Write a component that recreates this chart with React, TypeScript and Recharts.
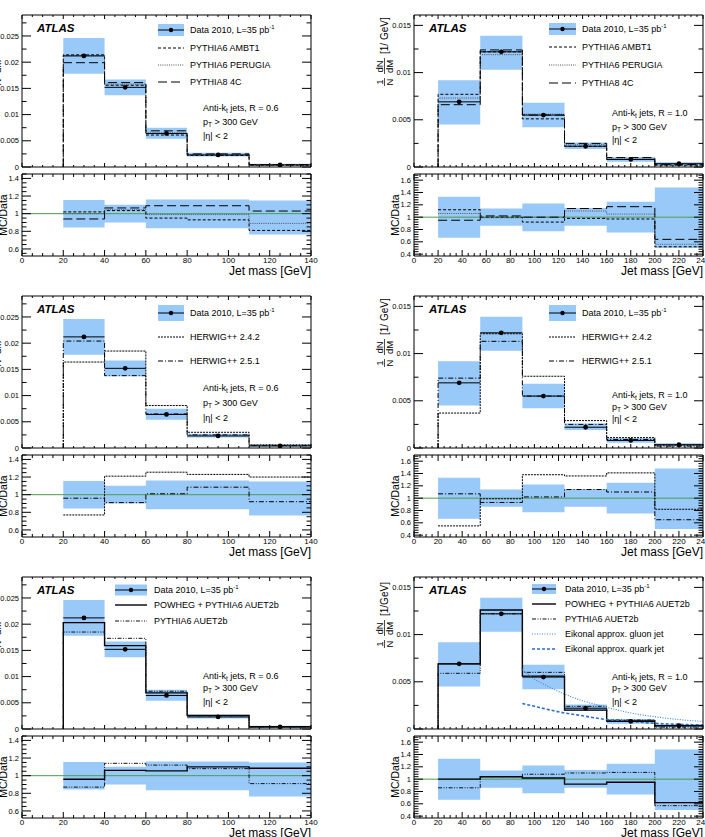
import React from 'react';
import { ComposedChart, XAxis, YAxis, Line, Area, Scatter, ErrorBar, ReferenceLine } from 'recharts';

const FONT = '"Liberation Sans", Arial, Helvetica, sans-serif';
const BAND = '#99c9f8';
const GREEN = '#4c9c4c';

// bin edges [GeV]
const edgesR06 = [20, 40, 60, 80, 110, 140];
const edgesR10 = [20, 55, 90, 125, 160, 200, 240];

// measured 1/N dN/dM with its total uncertainty band
const dataR06 = [0.0212, 0.0152, 0.0064, 0.0023, 0.0004];
const bandLoR06 = [0.0178, 0.0137, 0.0054, 0.002, 0.00025];
const bandHiR06 = [0.0246, 0.0167, 0.0075, 0.0027, 0.0006];
const ratioBandLoR06 = [0.844, 0.9, 0.835, 0.835, 0.765];
const ratioBandHiR06 = [1.156, 1.1, 1.16, 1.16, 1.15];

const dataR10 = [0.0069, 0.0122, 0.0055, 0.0022, 0.0008, 0.00035];
const bandLoR10 = [0.0045, 0.0103, 0.0042, 0.0019, 0.00055, 0.00015];
const bandHiR10 = [0.0092, 0.0139, 0.0068, 0.0026, 0.00105, 0.0005];
const ratioBandLoR10 = [0.665, 0.86, 0.77, 0.86, 0.75, 0.5];
const ratioBandHiR10 = [1.33, 1.14, 1.22, 1.15, 1.25, 1.48];

// PYTHIA tunes
const ambt1R06 = [0.0214, 0.0156, 0.0061, 0.0022, 0.00035];
const ambt1RatioR06 = [1.02, 1.035, 0.95, 0.93, 0.81];
const perugiaR06 = [0.0212, 0.0158, 0.0065, 0.0023, 0.0004];
const perugiaRatioR06 = [1.0, 1.045, 0.99, 0.99, 0.89];
const py8R06 = [0.0199, 0.0161, 0.0069, 0.0025, 0.00045];
const py8RatioR06 = [0.94, 1.065, 1.09, 1.09, 1.03];

const ambt1R10 = [0.0077, 0.0122, 0.0051, 0.0022, 0.0008, 0.0002];
const ambt1RatioR10 = [1.12, 1.0, 0.92, 0.98, 0.97, 0.52];
const perugiaR10 = [0.0073, 0.0119, 0.0056, 0.0024, 0.00085, 0.0002];
const perugiaRatioR10 = [1.06, 0.99, 1.0, 1.1, 1.05, 0.56];
const py8R10 = [0.0066, 0.0124, 0.0055, 0.0025, 0.001, 0.00025];
const py8RatioR10 = [0.95, 1.02, 1.0, 1.14, 1.17, 0.64];

// HERWIG++
const hw242R06 = [0.0164, 0.0185, 0.0081, 0.003, 0.0006];
const hw242RatioR06 = [0.77, 1.21, 1.255, 1.23, 1.2];
const hw251R06 = [0.0204, 0.0138, 0.0065, 0.0025, 0.00045];
const hw251RatioR06 = [0.96, 0.91, 1.01, 1.085, 0.92];

const hw242R10 = [0.0037, 0.0121, 0.0076, 0.0029, 0.0011, 0.0003];
const hw242RatioR10 = [0.55, 0.99, 1.38, 1.36, 1.41, 0.82];
const hw251R10 = [0.0074, 0.0113, 0.0055, 0.0025, 0.0009, 0.0002];
const hw251RatioR10 = [1.07, 0.93, 1.02, 1.14, 1.1, 0.65];

// POWHEG and PYTHIA6 AUET2b
const powhegR06 = [0.0203, 0.0159, 0.0069, 0.0026, 0.00044];
const powhegRatioR06 = [0.96, 1.06, 1.055, 1.1, 1.085];
const auet2bR06 = [0.0185, 0.0173, 0.0072, 0.0025, 0.0004];
const auet2bRatioR06 = [0.87, 1.14, 1.12, 1.08, 0.91];

const powhegR10 = [0.0069, 0.0126, 0.0056, 0.002, 0.00085, 0.00035];
const powhegRatioR10 = [1.0, 1.04, 1.02, 0.92, 0.95, 0.62];
const auet2bR10 = [0.0059, 0.0122, 0.006, 0.0024, 0.00095, 0.0002];
const auet2bRatioR10 = [0.86, 1.04, 1.08, 1.1, 1.11, 0.57];

// eikonal approximation curves (R = 1.0)
const eikonalX = [90, 100, 110, 125, 140, 160, 180, 200, 220, 240];
const gluonEikonal = [0.0063, 0.0053, 0.0046, 0.0037, 0.003, 0.0023, 0.0017, 0.0013, 0.001, 0.0008];
const quarkEikonal = [0.0027, 0.0024, 0.0021, 0.0017, 0.0014, 0.001, 0.0008, 0.0006, 0.0005, 0.00042];

// labelled axis ticks
const xTicksR06 = [0, 20, 40, 60, 80, 100, 120, 140];
const xTicksR10 = [0, 20, 40, 60, 80, 100, 120, 140, 160, 180, 200, 220, 240];
const yTicksMainR06 = [0, 0.005, 0.01, 0.015, 0.02, 0.025];
const yTicksMainR10 = [0, 0.005, 0.01, 0.015];
const yTicksRatioR06 = [0.6, 0.8, 1, 1.2, 1.4];
const yTicksRatioR10 = [0.4, 0.6, 0.8, 1, 1.2, 1.4, 1.6];

// layout
const PW = 289;
const MH = 152;
const RY = 159;
const RH = 82;
const M = 30;
const COLS = [22, 414];
const ROWS = [15, 296, 577];

const range = (a: number, b: number, step: number) => {
  const out: number[] = [];
  for (let v = a; v <= b + step / 1000; v += step) out.push(Math.round(v * 1e6) / 1e6);
  return out;
};

const axR06 = {
  edges: edgesR06, data: dataR06, bandLo: bandLoR06, bandHi: bandHiR06,
  rLo: ratioBandLoR06, rHi: ratioBandHiR06,
  xDomain: [0, 140], xTicks: xTicksR06, xMinor: range(0, 140, 5),
  mainDomain: [0, 0.029], mainTicks: yTicksMainR06, mainMinor: range(0, 0.0275, 0.0025),
  ratioDomain: [0.52, 1.45], ratioTicks: yTicksRatioR06, ratioMinor: range(0.55, 1.45, 0.05),
};
const axR10 = {
  edges: edgesR10, data: dataR10, bandLo: bandLoR10, bandHi: bandHiR10,
  rLo: ratioBandLoR10, rHi: ratioBandHiR10,
  xDomain: [0, 240], xTicks: xTicksR10, xMinor: range(0, 240, 5),
  mainDomain: [0, 0.0161], mainTicks: yTicksMainR10, mainMinor: range(0, 0.015, 0.0025),
  ratioDomain: [0.37, 1.7], ratioTicks: yTicksRatioR10, ratioMinor: range(0.4, 1.68, 0.04),
};

const ST: any = {
  ambt1: { stroke: '#000', dash: '3 2', width: 1 },
  perugia: { stroke: '#444', dash: '1 1.2', width: 0.9 },
  py8: { stroke: '#000', dash: '9 4', width: 1 },
  hw242: { stroke: '#000', dash: '2 1', width: 1 },
  hw251: { stroke: '#000', dash: '5 2 1 2', width: 1 },
  powheg: { stroke: '#000', dash: undefined, width: 1.4 },
  auet2b: { stroke: '#111', dash: '4 1.5 1 1.5 1 1.5', width: 1 },
  gluon: { stroke: '#3d85d6', dash: '1 1.5', width: 1.1 },
  quark: { stroke: '#2b6fc6', dash: '3 2', width: 1.6 },
};

const panels: any[] = [
  {
    col: 0, row: 0, kind: 'R06',
    series: [
      { label: 'PYTHIA6 AMBT1', main: ambt1R06, ratio: ambt1RatioR06, st: ST.ambt1 },
      { label: 'PYTHIA6 PERUGIA', main: perugiaR06, ratio: perugiaRatioR06, st: ST.perugia },
      { label: 'PYTHIA8 4C', main: py8R06, ratio: py8RatioR06, st: ST.py8 },
    ],
    legend: { symX: 136, symW: 26, textX: 168, rows: [15, 33, 50, 67], rectH: 12 },
    annot: { x: 181, rows: [93, 107, 121] },
  },
  {
    col: 1, row: 0, kind: 'R10',
    series: [
      { label: 'PYTHIA6 AMBT1', main: ambt1R10, ratio: ambt1RatioR10, st: ST.ambt1 },
      { label: 'PYTHIA6 PERUGIA', main: perugiaR10, ratio: perugiaRatioR10, st: ST.perugia },
      { label: 'PYTHIA8 4C', main: py8R10, ratio: py8RatioR10, st: ST.py8 },
    ],
    legend: { symX: 135, symW: 27, textX: 168, rows: [14, 32, 50, 68], rectH: 12 },
    annot: { x: 198, rows: [98, 112, 125] },
    unit: '[1/ GeV]',
  },
  {
    col: 0, row: 1, kind: 'R06',
    series: [
      { label: 'HERWIG++ 2.4.2', main: hw242R06, ratio: hw242RatioR06, st: ST.hw242 },
      { label: 'HERWIG++ 2.5.1', main: hw251R06, ratio: hw251RatioR06, st: ST.hw251 },
    ],
    legend: { symX: 136, symW: 26, textX: 168, rows: [17, 41, 65], rectH: 16 },
    annot: { x: 181, rows: [92, 107, 122] },
  },
  {
    col: 1, row: 1, kind: 'R10',
    series: [
      { label: 'HERWIG++ 2.4.2', main: hw242R10, ratio: hw242RatioR10, st: ST.hw242 },
      { label: 'HERWIG++ 2.5.1', main: hw251R10, ratio: hw251RatioR10, st: ST.hw251 },
    ],
    legend: { symX: 135, symW: 27, textX: 168, rows: [17, 41, 65], rectH: 16 },
    annot: { x: 198, rows: [99, 111, 123] },
    unit: '[1/ GeV]',
  },
  {
    col: 0, row: 2, kind: 'R06',
    series: [
      { label: 'POWHEG + PYTHIA6 AUET2b', main: powhegR06, ratio: powhegRatioR06, st: ST.powheg },
      { label: 'PYTHIA6 AUET2b', main: auet2bR06, ratio: auet2bRatioR06, st: ST.auet2b },
    ],
    legend: { symX: 93, symW: 32, textX: 132, rows: [13, 28, 44], rectH: 11 },
    annot: { x: 181, rows: [99, 111, 125] },
  },
  {
    col: 1, row: 2, kind: 'R10',
    series: [
      { label: 'POWHEG + PYTHIA6 AUET2b', main: powhegR10, ratio: powhegRatioR10, st: ST.powheg },
      { label: 'PYTHIA6 AUET2b', main: auet2bR10, ratio: auet2bRatioR10, st: ST.auet2b },
    ],
    curves: [
      { label: 'Eikonal approx. gluon jet', vals: gluonEikonal, st: ST.gluon },
      { label: 'Eikonal approx. quark jet', vals: quarkEikonal, st: ST.quark },
    ],
    legend: { symX: 118, symW: 24, textX: 151, rows: [12, 27, 42, 57, 72], rectH: 10 },
    annot: { x: 198, rows: [100, 111, 125] },
    unit: '[1/GeV]',
  },
];

// histogram outline as step points; last edge repeats the last bin value
const stepRows = (edges: number[], vals: number[], fromZero: boolean) => {
  const rows = vals.map((v, i) => ({ x: edges[i], y: v }));
  rows.push({ x: edges[edges.length - 1], y: vals[vals.length - 1] });
  return fromZero ? [{ x: edges[0], y: 0 }, ...rows] : rows;
};
const bandRows = (edges: number[], lo: number[], hi: number[]) => {
  const rows = lo.map((l, i) => ({ x: edges[i], band: [l, hi[i]] }));
  rows.push({ x: edges[edges.length - 1], band: [lo[lo.length - 1], hi[hi.length - 1]] });
  return rows;
};
const pointRows = (edges: number[], vals: number[]) =>
  vals.map((v, i) => ({ x: (edges[i] + edges[i + 1]) / 2, y: v, ex: (edges[i + 1] - edges[i]) / 2 }));

// ROOT style tick: drawn inward from the frame, long for labelled values
function FrameTick(p: any) {
  const v = p.payload.value;
  const major = p.maj.some((m: number) => Math.abs(m - v) < 1e-9);
  const l = major ? p.len : p.len / 2;
  const s = p.side;
  const c: any = { x1: p.x, x2: p.x, y1: p.y, y2: p.y };
  if (s === 'left') c.x2 = p.x + l;
  else if (s === 'right') c.x1 = p.x - l;
  else if (s === 'top') c.y2 = p.y + l;
  else c.y1 = p.y - l;
  let label = null;
  if (p.show && major) {
    label = s === 'left'
      ? <text x={p.x - 3} y={p.y} dy="0.35em" textAnchor="end" fontSize={7.5} fontFamily={FONT} fill="#000">{String(v)}</text>
      : <text x={p.x} y={p.y + 7} textAnchor="middle" fontSize={8} fontFamily={FONT} fill="#000">{String(v)}</text>;
  }
  return (
    <g>
      <line {...c} stroke="#000" strokeWidth={1} />
      {label}
    </g>
  );
}

const AX_LINE = { stroke: '#000', strokeWidth: 1 };

function frameAxes(xDomain: any, xMajor: number[], xAll: number[], yDomain: any, yMajor: number[], yAll: number[],
  xLabels: boolean, xLen: number, yLen: number) {
  const common: any = {
    type: 'number', allowDataOverflow: true, interval: 0, tickLine: false,
    tickSize: 0, tickMargin: 0, axisLine: AX_LINE,
  };
  return [
    <XAxis key="xb" {...common} dataKey="x" domain={xDomain} ticks={xAll} height={1}
      tick={<FrameTick side="bottom" maj={xMajor} len={xLen} show={xLabels} />} />,
    <XAxis key="xt" xAxisId="t" orientation="top" {...common} dataKey="x" domain={xDomain} ticks={xAll} height={1}
      tick={<FrameTick side="top" maj={xMajor} len={xLen} show={false} />} />,
    <YAxis key="yl" {...common} dataKey="y" domain={yDomain} ticks={yAll} width={1}
      tick={<FrameTick side="left" maj={yMajor} len={yLen} show />} />,
    <YAxis key="yr" yAxisId="r" orientation="right" {...common} dataKey="y" domain={yDomain} ticks={yAll} width={1}
      tick={<FrameTick side="right" maj={yMajor} len={yLen} show={false} />} />,
  ];
}

const dotShape = (props: any) => <circle cx={props.cx} cy={props.cy} r={2.4} fill="#000" />;

function Panel({ p }: any) {
  const ax: any = p.kind === 'R06' ? axR06 : axR10;
  const x0 = COLS[p.col];
  const y0 = ROWS[p.row];
  const margin = { top: M - 1, right: M - 1, bottom: M - 1, left: M - 1 };
  return (
    <>
      <div style={{ position: 'absolute', left: x0 - M, top: y0 - M }}>
        <ComposedChart width={PW + 2 * M} height={MH + 2 * M} margin={margin}>
          {frameAxes(ax.xDomain, ax.xTicks, ax.xMinor, ax.mainDomain, ax.mainTicks, ax.mainMinor, false, 4, 9)}
          <Area data={bandRows(ax.edges, ax.bandLo, ax.bandHi)} dataKey="band" type="stepAfter" stroke="none"
            fill={BAND} fillOpacity={1} isAnimationActive={false} />
          {p.series.map((s: any) => (
            <Line key={s.label} data={stepRows(ax.edges, s.main, true)} dataKey="y" type="stepAfter" dot={false}
              activeDot={false} stroke={s.st.stroke} strokeWidth={s.st.width} strokeDasharray={s.st.dash}
              isAnimationActive={false} />
          ))}
          {(p.curves || []).map((c: any) => (
            <Line key={c.label} data={eikonalX.map((x, i) => ({ x, y: c.vals[i] }))} dataKey="y" type="monotone"
              dot={false} activeDot={false} stroke={c.st.stroke} strokeWidth={c.st.width}
              strokeDasharray={c.st.dash} isAnimationActive={false} />
          ))}
          <Scatter data={pointRows(ax.edges, ax.data)} dataKey="y" shape={dotShape} isAnimationActive={false}>
            <ErrorBar dataKey="ex" direction="x" width={0} stroke="#000" strokeWidth={1} />
          </Scatter>
        </ComposedChart>
      </div>
      <div style={{ position: 'absolute', left: x0 - M, top: y0 + RY - M }}>
        <ComposedChart width={PW + 2 * M} height={RH + 2 * M} margin={margin}>
          {frameAxes(ax.xDomain, ax.xTicks, ax.xMinor, ax.ratioDomain, ax.ratioTicks, ax.ratioMinor, true, 6, 9)}
          <Area data={bandRows(ax.edges, ax.rLo, ax.rHi)} dataKey="band" type="stepAfter" stroke="none"
            fill={BAND} fillOpacity={1} isAnimationActive={false} />
          <ReferenceLine y={1} stroke={GREEN} strokeWidth={1} />
          {p.series.map((s: any) => (
            <Line key={s.label} data={stepRows(ax.edges, s.ratio, false)} dataKey="y" type="stepAfter" dot={false}
              activeDot={false} stroke={s.st.stroke} strokeWidth={s.st.width} strokeDasharray={s.st.dash}
              isAnimationActive={false} />
          ))}
        </ComposedChart>
      </div>
    </>
  );
}

function YTitle({ x, y, unit }: any) {
  // rotated 1/N dN/dM [1/GeV]; local x runs upward on screen
  return (
    <g transform={`translate(${x},${y}) rotate(-90)`} fontSize={9.5}>
      <text x={4} y={-1.5} textAnchor="middle">1</text>
      <line x1={0} x2={8} y1={0.5} y2={0.5} stroke="#000" strokeWidth={0.7} />
      <text x={4} y={8.5} textAnchor="middle">N</text>
      <text x={19.5} y={-1.5} textAnchor="middle">dN</text>
      <line x1={12} x2={28} y1={0.5} y2={0.5} stroke="#000" strokeWidth={0.7} />
      <text x={19.5} y={8.5} textAnchor="middle">dM</text>
      <text x={32} y={4} fontSize={10}>{unit}</text>
    </g>
  );
}

function PanelText({ p }: any) {
  const x0 = COLS[p.col];
  const y0 = ROWS[p.row];
  const L = p.legend;
  const A = p.annot;
  const r = p.kind === 'R06' ? '0.6' : '1.0';
  const entries = [...p.series, ...(p.curves || [])];
  const sx = x0 + L.symX;
  return (
    <g fontFamily={FONT} fill="#000">
      <text x={x0 + 15} y={y0 + 17} fontSize={11.5} fontWeight="bold" fontStyle="italic">ATLAS</text>
      <rect x={sx} y={y0 + L.rows[0] - L.rectH / 2} width={L.symW} height={L.rectH} fill={BAND} />
      <line x1={sx} x2={sx + L.symW} y1={y0 + L.rows[0]} y2={y0 + L.rows[0]} stroke="#000" strokeWidth={1} />
      <circle cx={sx + L.symW / 2} cy={y0 + L.rows[0]} r={2.2} fill="#000" />
      <text x={x0 + L.textX} y={y0 + L.rows[0] + 3.2} fontSize={9}>
        Data 2010, L=35 pb<tspan fontSize={6} dy={-4}>-1</tspan>
      </text>
      {entries.map((s: any, i: number) => {
        const yy = y0 + L.rows[i + 1];
        return (
          <g key={s.label}>
            <line x1={sx} x2={sx + L.symW} y1={yy} y2={yy} stroke={s.st.stroke} strokeWidth={s.st.width}
              strokeDasharray={s.st.dash} />
            <text x={x0 + L.textX} y={yy + 3.2} fontSize={9}>{s.label}</text>
          </g>
        );
      })}
      <text x={x0 + A.x} y={y0 + A.rows[0] + 3.2} fontSize={9}>
        Anti-k<tspan fontSize={6.5} dy={2}>t</tspan><tspan dy={-2}> jets, R = {r}</tspan>
      </text>
      <text x={x0 + A.x} y={y0 + A.rows[1] + 3.2} fontSize={9}>
        p<tspan fontSize={6.5} dy={2}>T</tspan><tspan dy={-2}> &gt; 300 GeV</tspan>
      </text>
      <text x={x0 + A.x} y={y0 + A.rows[2] + 3.2} fontSize={9}>|η| &lt; 2</text>
      <YTitle x={x0 - 30} y={y0 + 71} unit={p.unit || '[1/GeV]'} />
      <text transform={`translate(${x0 - 15},${y0 + RY + RH / 2}) rotate(-90)`} textAnchor="middle" fontSize={10.5}>
        MC/Data
      </text>
      <text x={x0 + PW} y={y0 + 260} textAnchor="end" fontSize={12}>Jet mass [GeV]</text>
    </g>
  );
}

export default function App() {
  return (
    <div style={{ position: 'absolute', left: 0, top: 0, width: 705, height: 837, overflow: 'hidden', background: '#fff' }}>
      {panels.map((p, i) => <Panel key={i} p={p} />)}
      <svg width={705} height={837} style={{ position: 'absolute', left: 0, top: 0, pointerEvents: 'none' }}>
        {panels.map((p, i) => <PanelText key={i} p={p} />)}
      </svg>
    </div>
  );
}
